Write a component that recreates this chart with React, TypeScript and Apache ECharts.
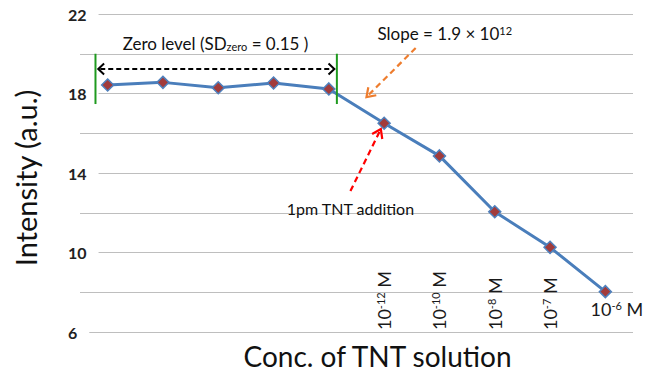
import { useEffect, useRef } from 'react';
import * as echarts from 'echarts';

const categories = ['zero-1', 'zero-2', 'zero-3', 'zero-4', 'zero-5', '1e-12 M', '1e-10 M', '1e-8 M', '1e-7 M', '1e-6 M'];
const exponents = [null, null, null, null, null, '-12', '-10', '-8', '-7', '-6'];
const intensity = [18.43, 18.56, 18.29, 18.53, 18.23, 16.5, 14.86, 12.05, 10.26, 8.03];
const yTickLabels = [6, 10, 14, 18, 22];

const FONT = 'Lato, "Open Sans", sans-serif';

export default function App() {
  const ref = useRef<HTMLDivElement>(null);
  useEffect(() => {
    if (!ref.current) return;
    const chart = echarts.init(ref.current, null, { renderer: 'svg' });
    const option: any = {
      animation: false,
      grid: { left: 80, right: 16, top: 14, bottom: 40, containLabel: false, outerBoundsMode: 'none' },
      xAxis: {
        type: 'category',
        data: categories,
        boundaryGap: true,
        axisLine: { show: false },
        axisTick: { show: false },
        axisLabel: {
          inside: true,
          rotate: 90,
          margin: 2,
          interval: 0,
          fontFamily: FONT,
          fontSize: 18,
          color: '#1a1a1a',
          formatter: (_v: string, i: number) => (i >= 5 && i < 9 ? `10{sup|${exponents[i]}} M` : ''),
          rich: { sup: { fontSize: 11, verticalAlign: 'top', fontFamily: FONT, color: '#1a1a1a' } },
        },
        name: 'Conc. of TNT solution',
        nameLocation: 'middle',
        nameGap: 10,
        nameTextStyle: { fontFamily: FONT, fontSize: 28, lineHeight: 28, color: '#111', padding: [0, 0, 0, 42] },
      },
      yAxis: [
        {
          type: 'value', min: 6, max: 22, interval: 2,
          axisLine: { show: false }, axisTick: { show: false }, axisLabel: { show: false },
          splitLine: { lineStyle: { color: '#BEBEBE', width: 1 } },
          name: 'Intensity (a.u.)', nameLocation: 'middle', nameRotate: 90, nameGap: 40,
          nameTextStyle: { fontFamily: FONT, fontSize: 29, color: '#111', padding: [0, 10, 0, 0] },
        },
        {
          type: 'value', min: 6, max: 22, interval: 4, position: 'left', z: 3,
          axisLine: { show: false }, axisTick: { show: false }, splitLine: { show: false },
          axisLabel: {
            align: 'left', margin: 12, fontWeight: 'bold', fontSize: 16, fontFamily: FONT, color: '#222',
            backgroundColor: '#fff', padding: [3, 12, 3, 0],
            formatter: (v: number) => (yTickLabels.includes(v) ? String(v) : ''),
          },
        },
      ],
      series: [
        {
          type: 'line',
          yAxisIndex: 0,
          data: intensity.map((v, i) =>
            i === 9
              ? {
                  value: v,
                  label: {
                    show: true,
                    position: [-8, 15],
                    formatter: `10{sup|${exponents[i]}} M`,
                    fontFamily: FONT, fontSize: 18, color: '#1a1a1a',
                    rich: { sup: { fontSize: 11, verticalAlign: 'top', fontFamily: FONT, color: '#1a1a1a' } },
                  },
                }
              : v
          ),
          lineStyle: { color: '#4A7EBB', width: 3 },
          symbol: 'diamond',
          symbolSize: 12,
          itemStyle: { color: '#A23B3B', borderColor: '#4F81BD', borderWidth: 1.5 },
          z: 5,
        },
      ],
    };
    chart.setOption(option);

    const p0 = chart.convertToPixel({ xAxisIndex: 0, yAxisIndex: 0 }, [0, 6]) as number[];
    const p1 = chart.convertToPixel({ xAxisIndex: 0, yAxisIndex: 0 }, [1, 7]) as number[];
    const dx = p1[0] - p0[0];
    const dy = p1[1] - p0[1];
    const P = (i: number, v: number): [number, number] => [p0[0] + i * dx, p0[1] + (v - 6) * dy];

    const head = (tip: [number, number], from: [number, number], L = 9, ang = 0.6) => {
      const ux = from[0] - tip[0];
      const uy = from[1] - tip[1];
      const n = Math.hypot(ux, uy);
      const a = Math.atan2(uy / n, ux / n);
      return [
        [tip[0] + L * Math.cos(a + ang), tip[1] + L * Math.sin(a + ang)],
        tip,
        [tip[0] + L * Math.cos(a - ang), tip[1] + L * Math.sin(a - ang)],
      ];
    };

    const graphics: any[] = [];
    const green = '#1F9A1F';
    const gl = P(-0.22, 20.0), gl2 = P(-0.22, 17.47);
    const gr = P(4.145, 20.0), gr2 = P(4.145, 17.47);
    graphics.push({ type: 'line', shape: { x1: gl[0], y1: gl[1], x2: gl2[0], y2: gl2[1] }, style: { stroke: green, lineWidth: 2 }, z: 10 });
    graphics.push({ type: 'line', shape: { x1: gr[0], y1: gr[1], x2: gr2[0], y2: gr2[1] }, style: { stroke: green, lineWidth: 2 }, z: 10 });

    const al = P(-0.17, 19.23), ar = P(4.1, 19.23);
    graphics.push({ type: 'line', shape: { x1: al[0] + 2, y1: al[1], x2: ar[0] - 2, y2: ar[1] }, style: { stroke: '#000', lineWidth: 2, lineDash: [5, 3] }, z: 10 });
    graphics.push({ type: 'polyline', shape: { points: head(al, ar, 8, 0.75) }, style: { stroke: '#000', lineWidth: 2, fill: null }, z: 10 });
    graphics.push({ type: 'polyline', shape: { points: head(ar, al, 8, 0.75) }, style: { stroke: '#000', lineWidth: 2, fill: null }, z: 10 });

    const zt = P(1.95, 20.5);
    graphics.push({
      type: 'text', x: zt[0], y: zt[1], z: 10,
      style: {
        text: 'Zero level (SD{sub|zero} = 0.15 )', align: 'center', verticalAlign: 'middle',
        fontFamily: FONT, fontSize: 17, fill: '#111',
        rich: { sub: { fontSize: 11, verticalAlign: 'bottom', fontFamily: FONT, fill: '#111' } },
      },
    });

    const st = P(4.88, 21.0);
    graphics.push({
      type: 'text', x: st[0], y: st[1], z: 10,
      style: {
        text: 'Slope = 1.9 × 10{sup|12}', align: 'left', verticalAlign: 'middle',
        fontFamily: FONT, fontSize: 17, fill: '#111',
        rich: { sup: { fontSize: 11, verticalAlign: 'top', fontFamily: FONT, fill: '#111' } },
      },
    });

    const oa = P(5.57, 20.29), ob = P(4.68, 17.82);
    graphics.push({ type: 'line', shape: { x1: oa[0], y1: oa[1], x2: ob[0], y2: ob[1] }, style: { stroke: '#EE7D2E', lineWidth: 2.2, lineDash: [6, 4] }, z: 10 });
    graphics.push({ type: 'polyline', shape: { points: head(ob, oa, 10, 0.6) }, style: { stroke: '#EE7D2E', lineWidth: 2.2, fill: null }, z: 10 });

    const ra = P(4.39, 13.09), rb = P(4.94, 16.21);
    graphics.push({ type: 'line', shape: { x1: ra[0], y1: ra[1], x2: rb[0], y2: rb[1] }, style: { stroke: '#FF0000', lineWidth: 2.2, lineDash: [6, 4] }, z: 10 });
    graphics.push({ type: 'polyline', shape: { points: head(rb, ra, 10, 0.6) }, style: { stroke: '#FF0000', lineWidth: 2.2, fill: null }, z: 10 });

    const tt = P(4.39, 12.19);
    graphics.push({
      type: 'text', x: tt[0], y: tt[1], z: 10,
      style: { text: '1pm TNT addition', align: 'center', verticalAlign: 'middle', fontFamily: FONT, fontSize: 16, fill: '#111' },
    });

    chart.setOption({ graphic: graphics });

    return () => chart.dispose();
  }, []);

  return (
    <div
      ref={ref}
      style={{ position: 'fixed', left: 0, top: 0, width: 649, height: 372, background: '#fff' }}
    />
  );
}
